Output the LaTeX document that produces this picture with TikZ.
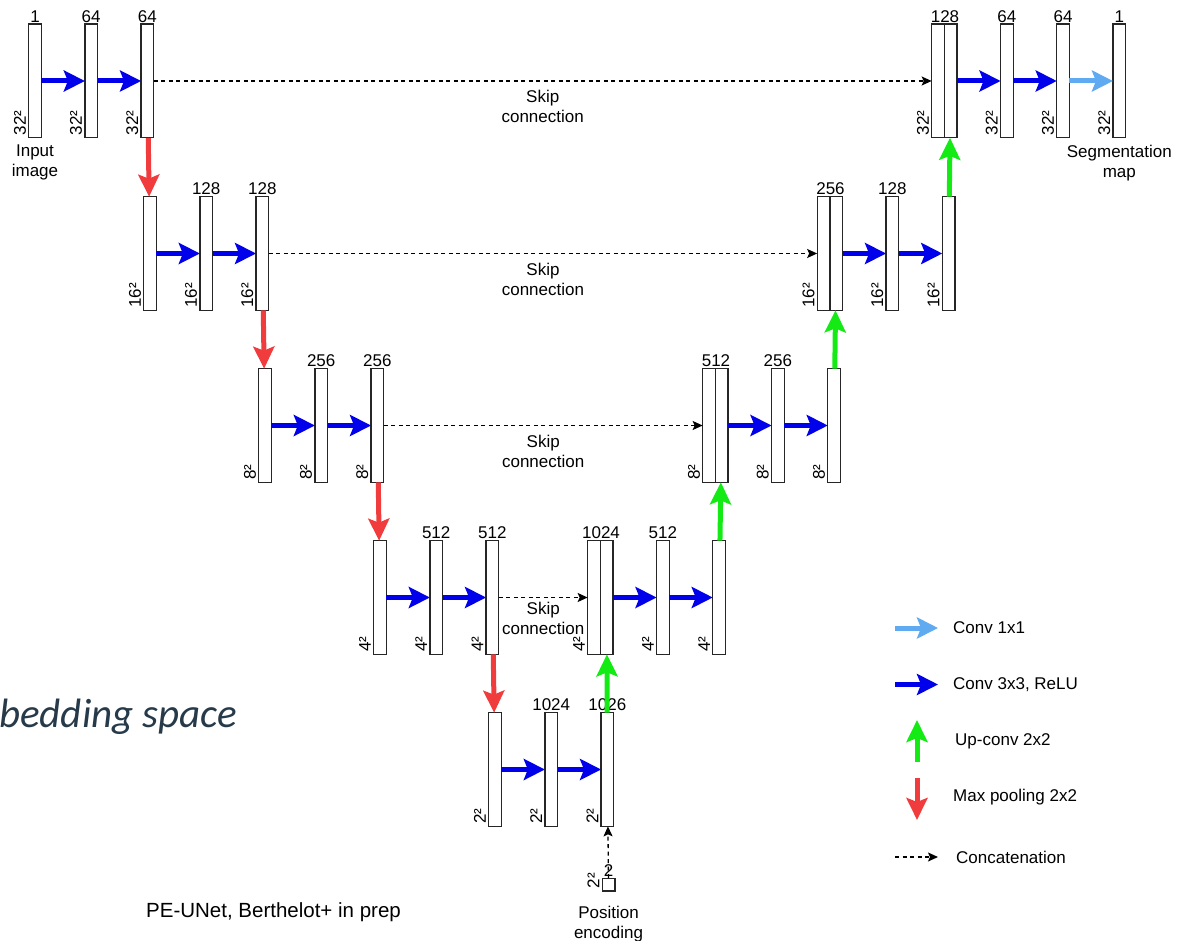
\documentclass[tikz,border=0pt]{standalone}
\usepackage{fontspec}
\setmainfont{Liberation Sans}
\newfontfamily\slidefont{Carlito}
\usepackage{xcolor}
\usetikzlibrary{positioning,arrows.meta}

\definecolor{convblue}{RGB}{0,0,235}
\definecolor{poolred}{RGB}{240,60,60}
\definecolor{upgreen}{RGB}{20,235,20}
\definecolor{onebyone}{RGB}{95,170,240}
\definecolor{slate}{RGB}{38,58,74}

\tikzset{
  layer/.style={draw=black!85, line width=1.3pt, fill=white, minimum width=12.7pt, minimum height=113.7pt, inner sep=0pt, outer sep=0pt},
  top/.style={label={[inner sep=1.5pt]above:#1}},
  topc/.style={label={[inner sep=1.5pt, xshift=7pt]above:#1}},
  dimtext/.style={rotate=90, anchor=south west, inner sep=2.5pt},
  conv/.style={convblue, line width=5pt, -{Stealth[length=21pt,width=21pt,inset=4pt]}},
  convone/.style={onebyone, line width=5pt, -{Stealth[length=21pt,width=21pt,inset=4pt]}},
  pool/.style={poolred, line width=5pt, -{Stealth[length=22pt,width=21pt,inset=4pt]}},
  upconv/.style={upgreen, line width=5pt, -{Stealth[length=22pt,width=21pt,inset=4pt]}},
  concat/.style={black, line width=1.3pt, dash pattern=on 4pt off 3.5pt, -{Stealth[length=10pt,width=9pt,inset=2pt]}},
  skip/.style={below, align=center, inner sep=9pt},
  legend/.style={anchor=west, inner sep=0pt}
}

\begin{document}
\begin{tikzpicture}[x=1pt, y=-1pt, node distance=43.5pt, font=\fontsize{17}{20}\selectfont]
\useasboundingbox (0,0) rectangle (1180,941);

% slide fragment and reference
\node[anchor=base west, inner sep=0pt, text=slate, font=\slidefont\itshape\fontsize{41}{45}\selectfont] (slide) at (-1,727) {bedding space};
\node[anchor=west, inner sep=0pt, font=\fontsize{20.5}{24}\selectfont] (ref) at (146,912) {PE-UNet, Berthelot+ in prep};

% Encoder
\node[layer, top=1, label={[align=center, inner sep=7pt]below:Input\\image}] (e1a) at (35,81) {};
\node[layer, top=64, right=of e1a] (e1b) {};
\node[layer, top=64, right=of e1b] (e1c) {};

\node[layer] (e2a) at (150,253.5) {};
\node[layer, top=128, right=of e2a] (e2b) {};
\node[layer, top=128, right=of e2b] (e2c) {};

\node[layer] (e3a) at (265,425.5) {};
\node[layer, top=256, right=of e3a] (e3b) {};
\node[layer, top=256, right=of e3b] (e3c) {};

\node[layer] (e4a) at (380,597.5) {};
\node[layer, top=512, right=of e4a] (e4b) {};
\node[layer, top=512, right=of e4b] (e4c) {};

\node[layer] (e5a) at (495,769.5) {};
\node[layer, top=1024, right=of e5a] (e5b) {};
\node[layer, top=1026, right=of e5b] (e5c) {};

% Position encoding
\node[layer, minimum height=12.7pt, top=2, label={[align=center, inner sep=15pt]below:Position\\encoding}] (pe) at (608.5,884.5) {};

% Decoder
\node[layer, topc=1024] (d4a) at (594,597.5) {};
\node[layer, right=0pt of d4a] (d4b) {};
\node[layer, top=512, right=of d4b] (d4c) {};
\node[layer, right=of d4c] (d4d) {};

\node[layer, topc=512] (d3a) at (709,425.5) {};
\node[layer, right=0pt of d3a] (d3b) {};
\node[layer, top=256, right=of d3b] (d3c) {};
\node[layer, right=of d3c] (d3d) {};

\node[layer, topc=256] (d2a) at (823.5,253.5) {};
\node[layer, right=0pt of d2a] (d2b) {};
\node[layer, top=128, right=of d2b] (d2c) {};
\node[layer, right=of d2c] (d2d) {};

\node[layer, topc=128] (d1a) at (938,81) {};
\node[layer, right=0pt of d1a] (d1b) {};
\node[layer, top=64, right=of d1b] (d1c) {};
\node[layer, top=64, right=of d1c] (d1d) {};
\node[layer, top=1, right=of d1d, label={[align=center, inner sep=7pt]below:Segmentation\\map}] (d1e) {};

% Sizes
\node[dimtext] (e1a-dim) at (e1a.south west) {32²};
\node[dimtext] (e1b-dim) at (e1b.south west) {32²};
\node[dimtext] (e1c-dim) at (e1c.south west) {32²};
\node[dimtext] (e2a-dim) at (e2a.south west) {16²};
\node[dimtext] (e2b-dim) at (e2b.south west) {16²};
\node[dimtext] (e2c-dim) at (e2c.south west) {16²};
\node[dimtext] (e3a-dim) at (e3a.south west) {8²};
\node[dimtext] (e3b-dim) at (e3b.south west) {8²};
\node[dimtext] (e3c-dim) at (e3c.south west) {8²};
\node[dimtext] (e4a-dim) at (e4a.south west) {4²};
\node[dimtext] (e4b-dim) at (e4b.south west) {4²};
\node[dimtext] (e4c-dim) at (e4c.south west) {4²};
\node[dimtext] (e5a-dim) at (e5a.south west) {2²};
\node[dimtext] (e5b-dim) at (e5b.south west) {2²};
\node[dimtext] (e5c-dim) at (e5c.south west) {2²};
\node[dimtext] (pe-dim) at (pe.south west) {2²};
\node[dimtext] (d4a-dim) at (d4a.south west) {4²};
\node[dimtext] (d4c-dim) at (d4c.south west) {4²};
\node[dimtext] (d4d-dim) at (d4d.south west) {4²};
\node[dimtext] (d3a-dim) at (d3a.south west) {8²};
\node[dimtext] (d3c-dim) at (d3c.south west) {8²};
\node[dimtext] (d3d-dim) at (d3d.south west) {8²};
\node[dimtext] (d2a-dim) at (d2a.south west) {16²};
\node[dimtext] (d2c-dim) at (d2c.south west) {16²};
\node[dimtext] (d2d-dim) at (d2d.south west) {16²};
\node[dimtext] (d1a-dim) at (d1a.south west) {32²};
\node[dimtext] (d1c-dim) at (d1c.south west) {32²};
\node[dimtext] (d1d-dim) at (d1d.south west) {32²};
\node[dimtext] (d1e-dim) at (d1e.south west) {32²};

% Convolutions
\draw[conv] (e1a) -- (e1b);
\draw[conv] (e1b) -- (e1c);
\draw[conv] (e2a) -- (e2b);
\draw[conv] (e2b) -- (e2c);
\draw[conv] (e3a) -- (e3b);
\draw[conv] (e3b) -- (e3c);
\draw[conv] (e4a) -- (e4b);
\draw[conv] (e4b) -- (e4c);
\draw[conv] (e5a) -- (e5b);
\draw[conv] (e5b) -- (e5c);
\draw[conv] (d4b) -- (d4c);
\draw[conv] (d4c) -- (d4d);
\draw[conv] (d3b) -- (d3c);
\draw[conv] (d3c) -- (d3d);
\draw[conv] (d2b) -- (d2c);
\draw[conv] (d2c) -- (d2d);
\draw[conv] (d1b) -- (d1c);
\draw[conv] (d1c) -- (d1d);
\draw[convone] (d1d) -- (d1e);

% Pooling and up-convolutions
\draw[pool] (e1c) -- (e2a);
\draw[pool] (e2c) -- (e3a);
\draw[pool] (e3c) -- (e4a);
\draw[pool] (e4c) -- (e5a);
\draw[upconv] (e5c) -- (d4b);
\draw[upconv] (d4d) -- (d3b);
\draw[upconv] (d3d) -- (d2b);
\draw[upconv] (d2d) -- (d1b);

% Skip connections
\draw[concat] (e1c) -- node[skip] {Skip\\connection} (d1a);
\draw[concat] (e2c) -- node[skip] {Skip\\connection} (d2a);
\draw[concat] (e3c) -- node[skip] {Skip\\connection} (d3a);
\draw[concat] (e4c) -- node[skip, yshift=5pt] {Skip\\connection} (d4a);
\draw[concat] (pe) -- (e5c);

% Legend
\coordinate (l1a) at (895,628);
\coordinate (l1b) at (938,628);
\coordinate (l2a) at (895,684.5);
\coordinate (l2b) at (938,684.5);
\coordinate (l3a) at (917,762);
\coordinate (l3b) at (917,720);
\coordinate (l4a) at (917,778);
\coordinate (l4b) at (917,820);
\coordinate (l5a) at (895,857);
\coordinate (l5b) at (938,857);
\draw[convone] (l1a) -- (l1b);
\draw[conv] (l2a) -- (l2b);
\draw[upconv] (l3a) -- (l3b);
\draw[pool] (l4a) -- (l4b);
\draw[concat] (l5a) -- (l5b);
\node[legend] (t1) at (953,628) {Conv 1x1};
\node[legend] (t2) at (953,684.5) {Conv 3x3, ReLU};
\node[legend] (t3) at (955,741) {Up-conv 2x2};
\node[legend] (t4) at (953,797) {Max pooling 2x2};
\node[legend] (t5) at (956,857) {Concatenation};

\end{tikzpicture}
\end{document}
